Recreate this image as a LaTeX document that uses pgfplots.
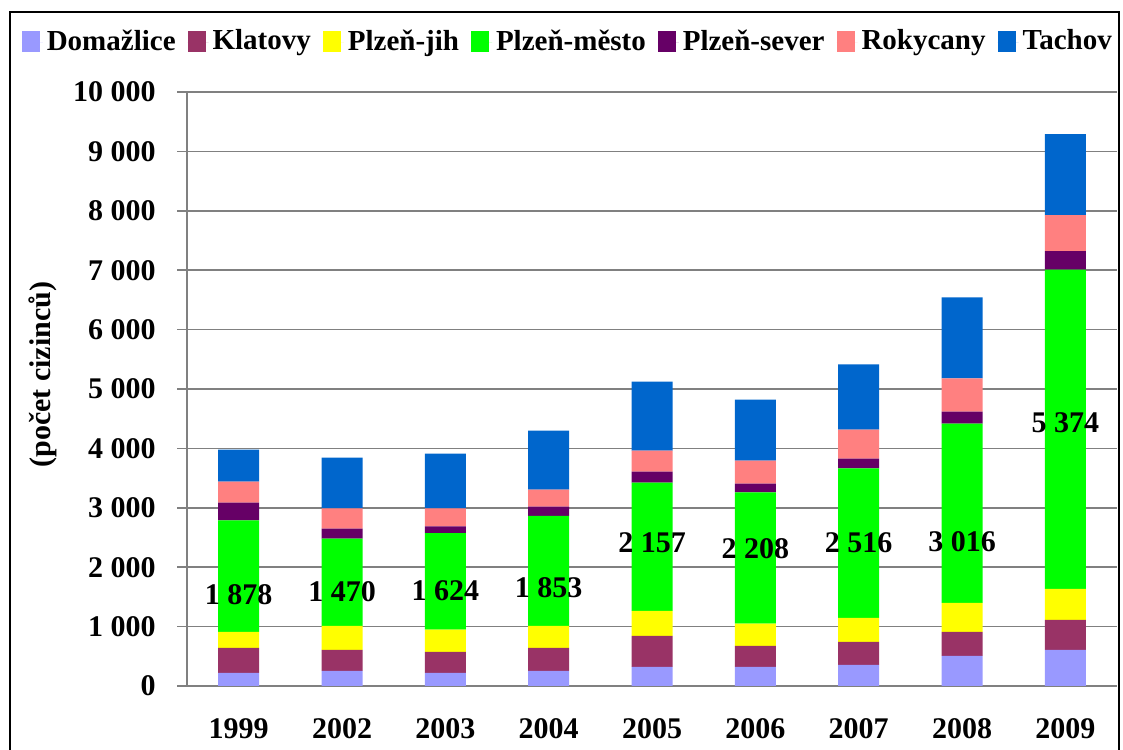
\documentclass[border=0pt]{standalone}
\usepackage{pgfplots}
\pgfplotsset{compat=1.18}
\usepackage{pgfplotstable}
\usepackage{fontspec}
\setmainfont{Liberation Serif}
\definecolor{cDom}{HTML}{9999FF}
\definecolor{cKla}{HTML}{993366}
\definecolor{cJih}{HTML}{FFFF00}
\definecolor{cMes}{HTML}{00FF00}
\definecolor{cSev}{HTML}{660066}
\definecolor{cRok}{HTML}{FF8080}
\definecolor{cTac}{HTML}{0066CC}
\definecolor{gridgray}{HTML}{808080}
\pgfplotstableread{
x  dom  kla  jih  mes   sev  rok  tac
0  219  422  270  1878  297  354  540
1  253  354  405  1470  166  342  855
2  219  354  377  1624  115  301  922
3  253  388  371  1853  153  287  995
4  320  523  422  2157  187  354  1163
5  320  354  377  2208  147  388  1029
6  354  388  405  2516  165  489  1096
7  506  405  489  3016  205  556  1366
8  607  506  523  5374  309  607  1366
}\datatable
\begin{document}
\fontsize{15}{18}\selectfont\bfseries
\begin{tikzpicture}
\useasboundingbox (0,0) rectangle (561.5pt,374.5pt);
\draw[line width=1pt] (5pt,-5pt) -- (5pt,368.5pt) -- (559.5pt,368.5pt) -- (559.5pt,-5pt);
\begin{axis}[
  at={(93.5pt,31.5pt)}, anchor=south west,
  scale only axis, width=465pt, height=297pt,
  ybar stacked, bar width=20.5pt,
  xmin=-0.5, xmax=8.5, ymin=0, ymax=10000,
  scaled y ticks=false,
  axis x line*=bottom, axis y line*=left,
  axis line style={gridgray, line width=0.8pt},
  ymajorgrids, grid style={gridgray, line width=0.8pt},
  tick align=outside,
  major tick length=5pt, minor tick length=5pt,
  tick style={gridgray, line width=0.8pt},
  xtick={0,...,8},
  xticklabels={1999,2002,2003,2004,2005,2006,2007,2008,2009},
  minor xtick={-0.5,0.5,...,8.5},
  xtick style={draw=none},
  minor tick style={gridgray, line width=0.8pt},
  ytick={0,1000,...,10000},
  yticklabels={0,1 000,2 000,3 000,4 000,5 000,6 000,7 000,8 000,9 000,10 000},
  ticklabel style={font=\fontsize{15}{18}\selectfont\bfseries, text=black},
  xticklabel style={anchor=center, yshift=-16.5pt},
  yticklabel style={anchor=east, xshift=-5.5pt},
  ylabel={(počet cizinců)},
  ylabel style={at={(axis description cs:-0.155,0.524)}, anchor=center, font=\fontsize{15}{18}\selectfont\bfseries},
  legend columns=7,
  legend style={at={(axis description cs:0.4105,1.084)}, anchor=center, draw=none, fill=none,
    font=\fontsize{14.5}{17}\selectfont\bfseries,
    /tikz/every even column/.append style={column sep=4pt}},
  legend cell align=left,
  legend image code/.code={\fill[#1] (0pt,-5pt) rectangle (9pt,5.5pt); \path (0pt,0pt) -- (10.5pt,0pt);},
]
\addplot[fill=cDom, draw=none] table[x=x, y=dom] {\datatable};
\addplot[fill=cKla, draw=none] table[x=x, y=kla] {\datatable};
\addplot[fill=cJih, draw=none] table[x=x, y=jih] {\datatable};
\addplot[fill=cMes, draw=none] table[x=x, y=mes] {\datatable};
\addplot[fill=cSev, draw=none] table[x=x, y=sev] {\datatable};
\addplot[fill=cRok, draw=none] table[x=x, y=rok] {\datatable};
\addplot[fill=cTac, draw=none] table[x=x, y=tac] {\datatable};
\legend{Domažlice,Klatovy,Plzeň-jih,Plzeň-město,Plzeň-sever,Rokycany,Tachov}
\end{axis}
\begin{axis}[
  at={(93.5pt,31.5pt)}, anchor=south west,
  scale only axis, width=465pt, height=297pt,
  xmin=-0.5, xmax=8.5, ymin=0, ymax=10000,
  hide axis, clip=false,
]
\addplot[draw=none, mark=none, nodes near coords, point meta=explicit symbolic,
  every node near coord/.append style={anchor=center, font=\fontsize{15}{18}\selectfont\bfseries, text=black}]
  coordinates {(0,1535) [1 878] (1,1585) [1 470] (2,1607) [1 624] (3,1647) [1 853]
   (4,2411) [2 157] (5,2305) [2 208] (6,2406) [2 516] (7,2434) [3 016] (8,4435) [5 374]};
\end{axis}
\end{tikzpicture}
\end{document}
